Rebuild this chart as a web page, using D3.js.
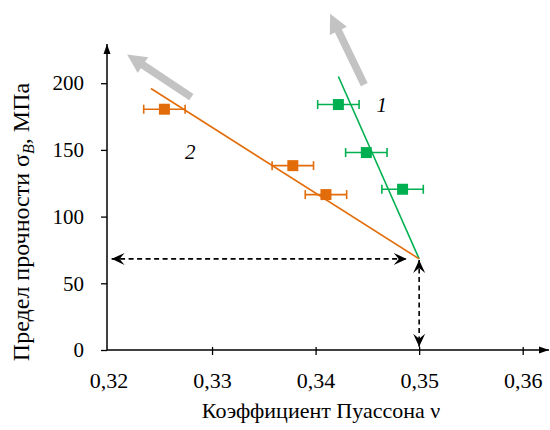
<!DOCTYPE html>
<html>
<head>
<meta charset="utf-8">
<script src="https://cdn.jsdelivr.net/npm/d3@7"></script>
<style>
body{margin:0;background:#fff;}
</style>
</head>
<body>
<svg id="chart" width="550" height="430"></svg>
<script>
// data
var greenNu=[0.3422,0.3449,0.3484];
var greenSigma=[184,148,120.5];
var orangeNu=[0.3254,0.3378,0.3410];
var orangeSigma=[180.5,138.2,116.5];
var nuErr=0.002;
var greenFit=[[0.3422,205],[0.35,68.3]];
var orangeFit=[[0.3241,196],[0.35,68.3]];
var grayArrows=[[[0.3447,199],[0.3414,252]],[[0.3280,189.5],[0.3218,221.5]]];
var dashArrows=[[[0.3203,68.3],[0.3488,68.3]],[[0.35,67.4],[0.35,2.5]]];
var xTicks=[0.32,0.33,0.34,0.35,0.36];
var yTicks=[0,50,100,150,200];
var curveLabels=[{t:"1",nu:0.3464,s:183.5},{t:"2",nu:0.3279,s:148.5}];

var green="#00b050";
var orange="#e36c0a";
var serif="'Liberation Serif', 'Times New Roman', 'DejaVu Serif', serif";

var svg=d3.select("#chart");

var x=d3.scaleLinear().domain([0.32,0.36]).range([108.5,522.7]);
var y=d3.scaleLinear().domain([0,200]).range([350,83.2]);

var ru=d3.formatLocale({decimal:",",thousands:" ",grouping:[3],currency:["",""]});
var fmt=ru.format(".2f");

var defs=svg.append("defs");
defs.append("marker")
.attr("id","axhead")
.attr("viewBox","-10 -5 10 10")
.attr("markerWidth",10).attr("markerHeight",10)
.attr("markerUnits","userSpaceOnUse")
.attr("orient","auto")
.append("path").attr("d","M-10,-3.5L0,0L-10,3.5Z").attr("fill","#000");
defs.append("marker")
.attr("id","stealth")
.attr("viewBox","-14 -7 14 14")
.attr("markerWidth",14).attr("markerHeight",14)
.attr("markerUnits","userSpaceOnUse")
.attr("orient","auto-start-reverse")
.append("path").attr("d","M0,0L-13,-6L-8,0L-13,6Z").attr("fill","#000");

// axes
var xAxis=d3.axisBottom(x).tickValues(xTicks).tickFormat(fmt).tickSize(5).tickPadding(17);
var gx=svg.append("g").attr("transform","translate(0,350)").call(xAxis);
gx.attr("font-family",null);
gx.select(".domain").remove();
gx.selectAll(".tick line").attr("y1",-3).attr("stroke-width",1.3);
gx.selectAll("text").attr("font-size",22);
gx.selectAll(".tick").filter(function(d){return d==0.32;}).select("line").remove();

var yAxis=d3.axisLeft(y).tickValues(yTicks).tickSize(6).tickPadding(17);
var gy=svg.append("g").attr("transform","translate(107,0)").call(yAxis);
gy.attr("font-family",null);
gy.select(".domain").remove();
gy.selectAll(".tick line").attr("stroke-width",1.3);
gy.selectAll("text").attr("font-size",21);

svg.append("line")
.attr("x1",107).attr("y1",350).attr("x2",549).attr("y2",350)
.attr("stroke","#000").attr("stroke-width",1.5).attr("marker-end","url(#axhead)");
svg.append("line")
.attr("x1",107).attr("y1",350).attr("x2",107).attr("y2",44)
.attr("stroke","#000").attr("stroke-width",1.5).attr("marker-end","url(#axhead)");

// axis titles
svg.append("text")
.attr("x",321).attr("y",418)
.attr("text-anchor","middle").attr("font-size",22)
.text("Коэффициент Пуассона ν");

var yt=svg.append("text")
.attr("transform","translate(29,222) rotate(-90)")
.attr("text-anchor","middle").attr("font-size",24);
yt.append("tspan").text("Предел прочности σ");
yt.append("tspan").attr("font-size",16).attr("font-style","italic").attr("dy",5).text("B");
yt.append("tspan").attr("dy",-5).text(", МПа");

// gray direction arrows
grayArrows.forEach(function(a){
  var x0=x(a[0][0]),y0=y(a[0][1]),x1=x(a[1][0]),y1=y(a[1][1]);
  var dx=x1-x0,dy=y1-y0,len=Math.sqrt(dx*dx+dy*dy);
  var ux=dx/len,uy=dy/len,px=-uy,py=ux;
  var hl=19,hw=9.5,sw=3.8;
  var bx=x1-ux*hl,by=y1-uy*hl;
  var pts=[
    [x0+px*sw,y0+py*sw],[bx+px*sw,by+py*sw],[bx+px*hw,by+py*hw],[x1,y1],
    [bx-px*hw,by-py*hw],[bx-px*sw,by-py*sw],[x0-px*sw,y0-py*sw]];
  svg.append("polygon").attr("points",pts.map(function(p){return p.join(",");}).join(" "))
  .attr("fill","#c3c3c3");
});

// dashed double arrows
svg.selectAll(".dash").data(dashArrows).enter().append("line")
.attr("class","dash")
.attr("x1",function(d){return x(d[0][0]);})
.attr("y1",function(d){return y(d[0][1]);})
.attr("x2",function(d){return x(d[1][0]);})
.attr("y2",function(d){return y(d[1][1]);})
.attr("stroke","#000").attr("stroke-width",1.6)
.attr("stroke-dasharray","5,3.5")
.attr("marker-start","url(#stealth)").attr("marker-end","url(#stealth)");

// fit lines
var line=d3.line().x(function(d){return x(d[0]);}).y(function(d){return y(d[1]);});
svg.append("path").attr("d",line(greenFit)).attr("stroke",green).attr("stroke-width",1.6).attr("fill","none");
svg.append("path").attr("d",line(orangeFit)).attr("stroke",orange).attr("stroke-width",1.6).attr("fill","none");

// points with error bars
function drawSeries(nu,sig,color){
  var g=svg.append("g");
  var pts=nu.map(function(v,i){return {nu:v,s:sig[i]};});
  g.selectAll(".eb").data(pts).enter().append("line")
  .attr("x1",function(d){return x(d.nu-nuErr);})
  .attr("x2",function(d){return x(d.nu+nuErr);})
  .attr("y1",function(d){return y(d.s);})
  .attr("y2",function(d){return y(d.s);})
  .attr("stroke",color).attr("stroke-width",1.6);
  [-1,1].forEach(function(sgn){
    g.selectAll(".cap"+sgn).data(pts).enter().append("line")
    .attr("x1",function(d){return x(d.nu+sgn*nuErr);})
    .attr("x2",function(d){return x(d.nu+sgn*nuErr);})
    .attr("y1",function(d){return y(d.s)-4.5;})
    .attr("y2",function(d){return y(d.s)+4.5;})
    .attr("stroke",color).attr("stroke-width",1.6);
  });
  g.selectAll("rect").data(pts).enter().append("rect")
  .attr("x",function(d){return x(d.nu)-5.5;})
  .attr("y",function(d){return y(d.s)-5.5;})
  .attr("width",11).attr("height",11)
  .attr("fill",color);
}
drawSeries(greenNu,greenSigma,green);
drawSeries(orangeNu,orangeSigma,orange);

// curve numbers
svg.selectAll(".lbl").data(curveLabels).enter().append("text")
.attr("x",function(d){return x(d.nu);})
.attr("y",function(d){return y(d.s)+7;})
.attr("text-anchor","middle")
.attr("font-size",21).attr("font-style","italic")
.text(function(d){return d.t;});

svg.selectAll("text").style("font-family",serif);
</script>
</body>
</html>
